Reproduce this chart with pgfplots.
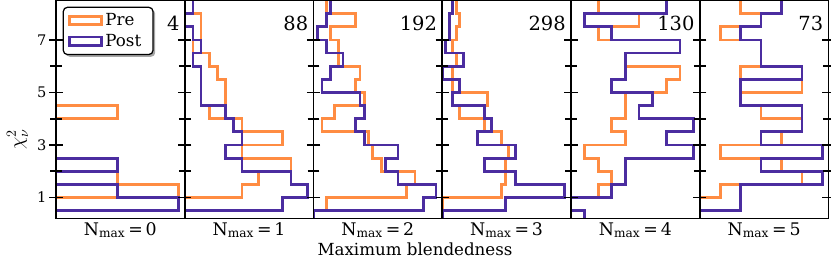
\documentclass[border=0pt]{standalone}
\usepackage{fontspec}
\setmainfont{DejaVu Serif}
\usepackage{pgfplots}
\usepackage{pgfplotstable}
\pgfplotsset{compat=1.18}
\usetikzlibrary{shadows}
\definecolor{cpre}{RGB}{255,140,66}
\definecolor{cpost}{RGB}{75,45,160}
\makeatletter
\tikzset{no preactions/.code={\let\tikz@preactions\pgfutil@empty}}
\makeatother

% bin lower edges (width 0.5); last row closes the outline above the view
\pgfplotstableread{
e pre post
0.0 0 0
0.5 0 2
1.0 2 1
1.5 1 0
2.0 0 1
2.5 0 0
3.0 0 0
3.5 0 0
4.0 1 0
4.5 0 0
5.0 0 0
5.5 0 0
6.0 0 0
6.5 0 0
7.0 0 0
7.5 0 0
8.0 0 0
9.0 0 0
}\tA
\pgfplotstableread{
e pre post
0.0 0 0
0.5 0 12
1.0 7 15
1.5 9 13
2.0 13 7
2.5 7 5
3.0 12 7
3.5 7 6
4.0 3 5
4.5 5 2
5.0 5 2
5.5 4 2
6.0 3 1
6.5 1 2
7.0 2 1
7.5 2 0
8.0 1 1
9.0 0 0
}\tB
\pgfplotstableread{
e pre post
0.0 0 0
0.5 3 26
1.0 22 29
1.5 24 20
2.0 16 17
2.5 14 20
3.0 13 12
3.5 2 10
4.0 5 12
4.5 12 11
5.0 10 2
5.5 11 4
6.0 6 7
6.5 6 3
7.0 4 1
7.5 10 3
8.0 3 4
9.0 0 0
}\tC
\pgfplotstableread{
e pre post
0.0 0 0
0.5 0 18
1.0 17 35
1.5 18 21
2.0 18 12
2.5 19 21
3.0 17 10
3.5 12 14
4.0 5 12
4.5 13 3
5.0 3 5
5.5 3 0
6.0 4 6
6.5 3 1
7.0 4 2
7.5 5 2
8.0 4 3
9.0 0 0
}\tD
\pgfplotstableread{
e pre post
0.0 0 1
0.5 0 0
1.0 2 3
1.5 3 4
2.0 2 4
2.5 1 9
3.0 4 7
3.5 3 9
4.0 4 5
4.5 4 6
5.0 7 3
5.5 8 4
6.0 4 4
6.5 8 8
7.0 2 3
7.5 5 1
8.0 2 7
9.0 0 0
}\tE
\pgfplotstableread{
e pre post
0.0 0 0
0.5 0 2
1.0 1 2
1.5 5 6
2.0 4 3
2.5 1 6
3.0 4 3
3.5 5 5
4.0 3 5
4.5 2 2
5.0 5 2
5.5 2 5
6.0 3 3
6.5 3 3
7.0 1 2
7.5 3 3
8.0 2 4
9.0 0 0
}\tF

\pgfplotsset{
  panel/.style={
    width=92.7pt, height=156.9pt, scale only axis,
    anchor=south west,
    ymin=0.2, ymax=8.5, xmin=0,
    xtick=\empty,
    ytick={1,3,5,7}, minor ytick={2,4,6},
    tick align=center,
    major tick length=9.6pt, minor tick length=8.4pt,
    tick style={black, line width=1.1pt},
    axis line style={line width=1.2pt},
    yticklabels=\empty,
    axis on top,
    xlabel style={at={(axis description cs:0.5,0)}, anchor=north, inner sep=0pt, yshift=-2.6pt, font=\fontsize{12.5}{14}\selectfont},
  },
  hpre/.style={const plot mark right, draw=cpre, line width=2pt},
  hpost/.style={const plot mark right, draw=cpost, line width=2pt},
}
\newcommand{\cnt}[1]{\node[anchor=east, inner sep=0pt, font=\fontsize{14}{16}\selectfont] at (rel axis cs:0.961,0.897) {#1};}

\begin{document}
\begin{tikzpicture}
\path[use as bounding box] (0,0) rectangle (598.32pt,187.92pt);

\begin{axis}[panel, at={(40.3pt,30.6pt)}, xmax=2.1,
  yticklabels={1,3,5,7},
  /pgf/number format/assume math mode=true,
  yticklabel style={font=\fontsize{10.5}{12}\selectfont, xshift=1.5pt},
  xlabel={N\textsubscript{max}\,=\,0},
  legend image code/.code={\draw[no preactions, #1, sharp corners, line width=2pt] (0pt,-3pt) rectangle (22.8pt,3pt);},
  legend style={at={(axis description cs:0.052,0.972)}, anchor=north west,
    draw=black, line width=0.9pt, rounded corners=3pt, fill=white,
    font=\fontsize{12}{14}\selectfont, inner xsep=3.5pt, inner ysep=2.5pt,
    row sep=0.5pt, cells={anchor=west},
    drop shadow={shadow xshift=1.6pt, shadow yshift=-1.6pt, fill=black, opacity=0.35}},
]
\addplot[hpre] table[x=pre, y=e] {\tA};
\addlegendentry{Pre}
\addplot[hpost] table[x=post, y=e] {\tA};
\addlegendentry{Post\hspace*{3pt}}
\cnt{4}
\end{axis}

\begin{axis}[panel, at={(133.0pt,30.6pt)}, xmax=15.75, xlabel={N\textsubscript{max}\,=\,1}]
\addplot[hpre] table[x=pre, y=e] {\tB};
\addplot[hpost] table[x=post, y=e] {\tB};
\cnt{88}
\end{axis}

\begin{axis}[panel, at={(225.7pt,30.6pt)}, xmax=30.45, xlabel={N\textsubscript{max}\,=\,2}]
\addplot[hpre] table[x=pre, y=e] {\tC};
\addplot[hpost] table[x=post, y=e] {\tC};
\cnt{192}
\end{axis}

\begin{axis}[panel, at={(318.4pt,30.6pt)}, xmax=36.75, xlabel={N\textsubscript{max}\,=\,3}]
\addplot[hpre] table[x=pre, y=e] {\tD};
\addplot[hpost] table[x=post, y=e] {\tD};
\cnt{298}
\end{axis}

\begin{axis}[panel, at={(411.1pt,30.6pt)}, xmax=9.45, xlabel={N\textsubscript{max}\,=\,4}]
\addplot[hpre] table[x=pre, y=e] {\tE};
\addplot[hpost] table[x=post, y=e] {\tE};
\cnt{130}
\end{axis}

\begin{axis}[panel, at={(503.8pt,30.6pt)}, xmax=6.3, xlabel={N\textsubscript{max}\,=\,5}]
\addplot[hpre] table[x=pre, y=e] {\tF};
\addplot[hpost] table[x=post, y=e] {\tF};
\cnt{73}
\end{axis}

\node[anchor=base, font=\fontsize{12}{14}\selectfont] at (298.8pt,4.3pt) {Maximum blendedness};
\node[rotate=90, font=\fontsize{14}{16}\selectfont] at (12.6pt,87.8pt) {$\chi^2_\nu$};
\end{tikzpicture}
\end{document}
